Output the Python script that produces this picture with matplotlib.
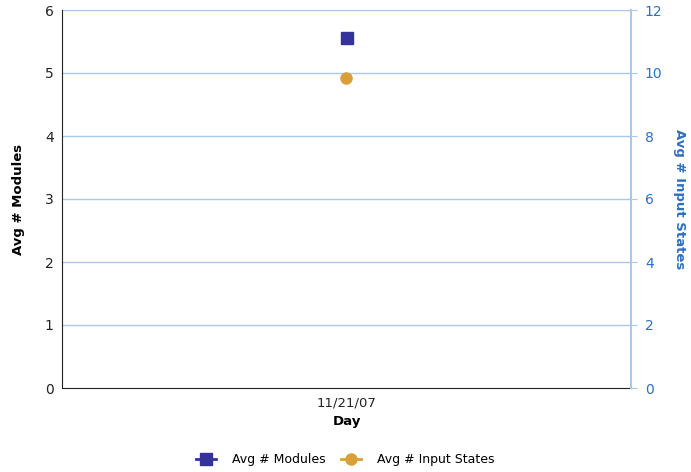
import matplotlib
matplotlib.use("Agg")
import matplotlib.pyplot as plt
from matplotlib.lines import Line2D

days = ["11/21/07"]
avg_modules = [5.55]
avg_input_states = [9.83]

plt.rcParams['font.family'] = ['DejaVu Sans']

fig = plt.figure(figsize=(6.91, 4.72), dpi=100)
ax = fig.add_axes([62/691, 1 - 388/472, (631-62)/691, (388-10)/472])
ax2 = ax.twinx()

grid_color = "#a8c8ec"
ax.set_ylim(0, 6)
ax.set_yticks(range(0, 7))
ax.set_xlim(-1, 1)
ax.set_xticks([0])
ax.set_xticklabels(days)
for y in range(1, 7):
    ax.axhline(y, color=grid_color, lw=1.0, zorder=0)

ax2.set_ylim(0, 12)
ax2.set_yticks(range(0, 13, 2))

ax.plot([0], avg_modules, marker="s", ms=9, color="#333399", ls="none", zorder=5)
ax2.plot([0], avg_input_states, marker="o", ms=8, color="#d9a03a", ls="none", zorder=5)

ax.spines["top"].set_visible(False)
ax2.spines["top"].set_visible(False)
ax.spines["right"].set_visible(False)
ax2.spines["left"].set_visible(False)
ax2.spines["bottom"].set_visible(False)
ax.spines["left"].set_color("#222222")
ax.spines["bottom"].set_color("#222222")
ax2.spines["right"].set_color(grid_color)
ax2.spines["right"].set_linewidth(1.5)

ax.tick_params(axis="y", colors="#222222", labelsize=10, length=0, pad=6)
ax.tick_params(axis="x", colors="#222222", labelsize=9.5, length=0, pad=6)
ax2.tick_params(axis="y", colors=grid_color, labelcolor="#2f6fbf", labelsize=10, length=4, pad=6)

ax.set_xlabel("Day", fontsize=9.5, fontweight="bold", labelpad=4)
ax.set_ylabel("Avg # Modules", fontsize=9.5, fontweight="bold", labelpad=14)
ax2.set_ylabel("Avg # Input States", fontsize=9.5, fontweight="bold", color="#2f6fbf",
               rotation=270, labelpad=17)

handles = [
    Line2D([], [], color="#333399", marker="s", ms=8, lw=2, label="Avg # Modules"),
    Line2D([], [], color="#d9a03a", marker="o", ms=8, lw=2, label="Avg # Input States"),
]
fig.legend(handles=handles, loc="center", bbox_to_anchor=(0.5, 1 - 460/472), ncol=2,
           frameon=False, fontsize=9, handlelength=1.6, handletextpad=1.3,
           columnspacing=1.2)

fig.savefig("out.png", dpi=100)
